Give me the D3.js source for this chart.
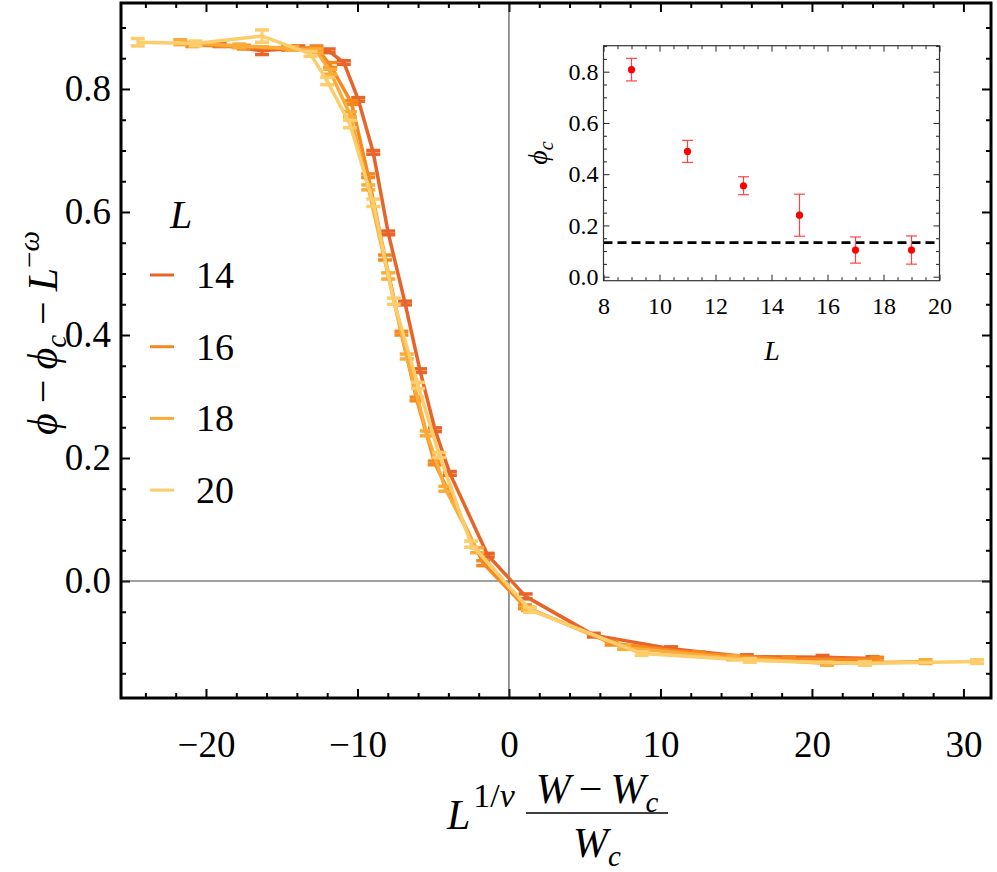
<!DOCTYPE html>
<html>
<head>
<meta charset="utf-8">
<script src="https://cdn.jsdelivr.net/npm/d3@7"></script>
<style>
  body { margin: 0; background: #fff; }
  text { font-family: "Liberation Serif", "DejaVu Serif", serif; fill: #000; }
</style>
</head>
<body>
<div id="chart"></div>
<script>
// ---- data ----
var sizes  = [14, 16, 18, 20];
var colors = ["#e8652a", "#f5891f", "#fbab38", "#fdcd6c"];

var x14 = [-19.1, -16.3, -13.9, -11.9, -10.9, -9.95, -8.96, -7.97, -6.86, -5.87, -4.88, -3.9, -1.4, 1.1, 5.6, 10.7, 15.7, 20.7, 24.0];
var y14 = [0.872, 0.862, 0.867, 0.862, 0.843, 0.783, 0.697, 0.566, 0.452, 0.342, 0.246, 0.175, 0.042, -0.025, -0.088, -0.110, -0.123, -0.124, -0.126];
var e14 = [0.003, 0.006, 0.003, 0.003, 0.003, 0.003, 0.003, 0.003, 0.003, 0.003, 0.003, 0.003, 0.003, 0.004, 0.003, 0.003, 0.003, 0.003, 0.003];

var x16 = [-20.9, -17.5, -14.6, -12.7, -11.8, -10.4, -9.29, -8.18, -7.1, -6.1, -4.9, -1.7, 1.06, 6.78, 12.5, 18.5, 24.3];
var y16 = [0.872, 0.868, 0.866, 0.867, 0.839, 0.778, 0.659, 0.526, 0.403, 0.296, 0.192, 0.029, -0.042, -0.101, -0.118, -0.127, -0.127];
var e16 = [0.003, 0.003, 0.003, 0.003, 0.004, 0.003, 0.003, 0.004, 0.003, 0.003, 0.003, 0.004, 0.003, 0.003, 0.003, 0.003, 0.003];

var x18 = [-21.7, -17.8, -14.3, -12.7, -11.8, -10.5, -9.29, -7.97, -6.75, -5.43, -4.2, -2.1, 1.25, 7.6, 14.8, 21.0, 27.5];
var y18 = [0.876, 0.870, 0.866, 0.862, 0.828, 0.759, 0.640, 0.496, 0.365, 0.240, 0.150, 0.050, -0.045, -0.108, -0.125, -0.134, -0.131];
var e18 = [0.004, 0.003, 0.003, 0.003, 0.004, 0.004, 0.004, 0.005, 0.004, 0.004, 0.004, 0.004, 0.003, 0.003, 0.003, 0.003, 0.003];

var x20 = [-24.5, -20.7, -16.3, -13.1, -12.0, -10.5, -8.96, -7.6, -6.0, -4.6, -2.5, 1.39, 8.76, 15.9, 23.5, 30.9];
var y20 = [0.876, 0.874, 0.886, 0.857, 0.813, 0.743, 0.615, 0.455, 0.318, 0.205, 0.060, -0.047, -0.118, -0.129, -0.134, -0.131];
var e20 = [0.006, 0.004, 0.010, 0.004, 0.006, 0.006, 0.006, 0.005, 0.005, 0.004, 0.005, 0.004, 0.003, 0.003, 0.003, 0.003];

// inset: critical phi vs L
var insetL   = [9, 11, 13, 15, 17, 19];
var insetPhi = [0.808, 0.489, 0.355, 0.240, 0.104, 0.104];
var insetErr = [0.044, 0.043, 0.035, 0.082, 0.051, 0.055];
var phiInf = 0.133;

// tick labels
var xTicks = [-20, -10, 0, 10, 20, 30];
var yTicks = [0, 0.2, 0.4, 0.6, 0.8];
var insetXTicks = [8, 10, 12, 14, 16, 18, 20];
var insetYTicks = [0, 0.2, 0.4, 0.6, 0.8];

var series = [
  {L: sizes[0], xs: x14, ys: y14, es: e14},
  {L: sizes[1], xs: x16, ys: y16, es: e16},
  {L: sizes[2], xs: x18, ys: y18, es: e18},
  {L: sizes[3], xs: x20, ys: y20, es: e20}
];

// ---- layout ----
var width = 997, height = 872;
var frame = {left: 121, right: 991, top: 3, bottom: 698};

var svg = d3.select("#chart").append("svg")
    .attr("width", width)
    .attr("height", height);

var x = d3.scaleLinear().domain([-25.61, 31.82]).range([frame.left, frame.right]);
var y = d3.scaleLinear().domain([-0.1902, 0.9398]).range([frame.bottom, frame.top]);

function minorTicks(lo, hi, step, majors) {
  return d3.range(lo, hi + step / 2, step)
    .map(function(v) { return +v.toFixed(4); })
    .filter(function(v) { return majors.indexOf(v) < 0; });
}

// draw an axis: major + minor ticks, inward
function drawAxis(g, axisFn, scale, majors, minors, majLen, minLen, labels, pad, fontSize, fmt, stroke, sw) {
  var a = axisFn(scale).tickValues(majors).tickSizeInner(-majLen).tickSizeOuter(0).tickPadding(pad);
  if (labels) a.tickFormat(fmt); else a.tickFormat("");
  g.call(a);
  var b = axisFn(scale).tickValues(minors).tickSizeInner(-minLen).tickSizeOuter(0).tickFormat("");
  g.append("g").call(b);
  g.selectAll(".domain").remove();
  g.attr("font-family", null);
  g.selectAll("line").attr("stroke", stroke).attr("stroke-width", sw);
  g.selectAll("text").attr("font-size", fontSize).attr("fill", "#000");
}

//////////
// MAIN PLOT //
//////////

var xMinor = minorTicks(-24, 30, 2, xTicks);
var yMinor = minorTicks(-0.15, 0.9, 0.05, yTicks.map(function(v){ return +v.toFixed(4); }));
var fmtX = d3.format("d"), fmtY = d3.format(".1f");

drawAxis(svg.append("g").attr("transform", "translate(0," + frame.bottom + ")"),
  d3.axisBottom, x, xTicks, xMinor, 9, 5, true, 33, 37, fmtX, "#000", 2);
drawAxis(svg.append("g").attr("transform", "translate(0," + frame.top + ")"),
  d3.axisTop, x, xTicks, xMinor, 9, 5, false, 0, 37, fmtX, "#000", 2);
drawAxis(svg.append("g").attr("transform", "translate(" + frame.left + ",0)"),
  d3.axisLeft, y, yTicks, yMinor, 9, 5, true, 10, 37, fmtY, "#000", 2);
drawAxis(svg.append("g").attr("transform", "translate(" + frame.right + ",0)"),
  d3.axisRight, y, yTicks, yMinor, 9, 5, false, 0, 37, fmtY, "#000", 2);

// clip
svg.append("defs").append("clipPath").attr("id", "clip")
  .append("rect")
    .attr("x", frame.left).attr("y", frame.top)
    .attr("width", frame.right - frame.left).attr("height", frame.bottom - frame.top);

var plot = svg.append("g").attr("clip-path", "url(#clip)");

// zero axes
plot.append("line")
  .attr("x1", frame.left).attr("x2", frame.right)
  .attr("y1", y(0)).attr("y2", y(0))
  .attr("stroke", "#444").attr("stroke-width", 1.1);
plot.append("line")
  .attr("x1", x(0)).attr("x2", x(0))
  .attr("y1", frame.top).attr("y2", frame.bottom)
  .attr("stroke", "#444").attr("stroke-width", 1.1);

var line = d3.line()
  .x(function(d) { return x(d[0]); })
  .y(function(d) { return y(d[1]); });

series.forEach(function(s, i) {
  var pts = s.xs.map(function(v, k) { return [v, s.ys[k], s.es[k]]; });
  var g = plot.append("g");
  g.append("path")
    .datum(pts)
    .attr("d", line)
    .attr("fill", "none")
    .attr("stroke", colors[i])
    .attr("stroke-width", 3.5)
    .attr("stroke-linejoin", "round");
  var eb = g.selectAll("g.eb").data(pts).enter().append("g").attr("class", "eb");
  eb.append("line")
    .attr("x1", function(d) { return x(d[0]); }).attr("x2", function(d) { return x(d[0]); })
    .attr("y1", function(d) { return y(d[1] - d[2]); }).attr("y2", function(d) { return y(d[1] + d[2]); })
    .attr("stroke", colors[i]).attr("stroke-width", 3);
  [-1, 1].forEach(function(sg) {
    eb.append("line")
      .attr("x1", function(d) { return x(d[0]) - 7; }).attr("x2", function(d) { return x(d[0]) + 7; })
      .attr("y1", function(d) { return y(d[1] + sg * d[2]); }).attr("y2", function(d) { return y(d[1] + sg * d[2]); })
      .attr("stroke", colors[i]).attr("stroke-width", 3.5);
  });
});

// frame
svg.append("rect")
  .attr("x", frame.left).attr("y", frame.top)
  .attr("width", frame.right - frame.left).attr("height", frame.bottom - frame.top)
  .attr("fill", "none").attr("stroke", "#000").attr("stroke-width", 3);

//////////
// LEGEND //
//////////

svg.append("text")
  .attr("x", 170).attr("y", 228)
  .attr("font-size", 40).attr("font-style", "italic")
  .text("L");

sizes.forEach(function(L, i) {
  var yy = 275 + i * 71.7;
  svg.append("line")
    .attr("x1", 150).attr("x2", 174).attr("y1", yy).attr("y2", yy)
    .attr("stroke", colors[i]).attr("stroke-width", 3);
  svg.append("text")
    .attr("x", 196).attr("y", yy + 13)
    .attr("font-size", 38)
    .text(L);
});

//////////
// AXIS LABELS //
//////////

// y label: phi - phi_c - L^-omega
var yl = svg.append("text")
  .attr("transform", "translate(57,333) rotate(-90)")
  .attr("text-anchor", "middle")
  .attr("font-size", 42);
yl.append("tspan").attr("font-style", "italic").text("ϕ");
yl.append("tspan").attr("dx", 10).text("−");
yl.append("tspan").attr("dx", 10).attr("font-style", "italic").text("ϕ");
yl.append("tspan").attr("dy", 9).attr("font-size", 29).attr("font-style", "italic").text("c");
yl.append("tspan").attr("dy", -9).attr("dx", 10).text("−");
yl.append("tspan").attr("dx", 10).attr("font-style", "italic").text("L");
yl.append("tspan").attr("dy", -18).attr("font-size", 29).text("−");
yl.append("tspan").attr("font-size", 29).attr("font-style", "italic").text("ω");

// x label: L^{1/nu} (W - W_c)/W_c
var xl = svg.append("g");
var t1 = xl.append("text").attr("x", 447).attr("y", 829).attr("font-size", 42);
t1.append("tspan").attr("font-style", "italic").text("L");
t1.append("tspan").attr("dx", 3).attr("dy", -22).attr("font-size", 34).text("1/");
t1.append("tspan").attr("font-size", 34).attr("font-style", "italic").text("ν");

var num = xl.append("text").attr("x", 597).attr("y", 803).attr("font-size", 42).attr("text-anchor", "middle");
num.append("tspan").attr("font-style", "italic").text("W");
num.append("tspan").attr("dx", 8).text("−");
num.append("tspan").attr("dx", 8).attr("font-style", "italic").text("W");
num.append("tspan").attr("dy", 9).attr("font-size", 29).attr("font-style", "italic").text("c");

xl.append("line")
  .attr("x1", 526).attr("x2", 668).attr("y1", 813).attr("y2", 813)
  .attr("stroke", "#000").attr("stroke-width", 1.6);

var den = xl.append("text").attr("x", 597).attr("y", 857).attr("font-size", 42).attr("text-anchor", "middle");
den.append("tspan").attr("font-style", "italic").text("W");
den.append("tspan").attr("dy", 9).attr("font-size", 29).attr("font-style", "italic").text("c");

//////////
// INSET //
//////////

var inset = {left: 603.5, right: 939.5, top: 45.7, bottom: 280.7};
var xi = d3.scaleLinear().domain([8, 20]).range([inset.left, inset.right]);
var yi = d3.scaleLinear().domain([-0.0156, 0.9014]).range([inset.bottom, inset.top]);

svg.append("rect")
  .attr("x", inset.left).attr("y", inset.top)
  .attr("width", inset.right - inset.left).attr("height", inset.bottom - inset.top)
  .attr("fill", "#fff");

var xiMinor = minorTicks(8, 20, 0.5, insetXTicks);
var yiMinor = minorTicks(0, 0.9, 0.05, insetYTicks.map(function(v){ return +v.toFixed(4); }));

drawAxis(svg.append("g").attr("transform", "translate(0," + inset.bottom + ")"),
  d3.axisBottom, xi, insetXTicks, xiMinor, 6, 3.5, true, 16, 24, fmtX, "#222", 1);
drawAxis(svg.append("g").attr("transform", "translate(0," + inset.top + ")"),
  d3.axisTop, xi, insetXTicks, xiMinor, 6, 3.5, false, 0, 24, fmtX, "#222", 1);
drawAxis(svg.append("g").attr("transform", "translate(" + inset.left + ",0)"),
  d3.axisLeft, yi, insetYTicks, yiMinor, 6, 3.5, true, 5, 24, fmtY, "#222", 1);
drawAxis(svg.append("g").attr("transform", "translate(" + inset.right + ",0)"),
  d3.axisRight, yi, insetYTicks, yiMinor, 6, 3.5, false, 0, 24, fmtY, "#222", 1);

// dashed asymptote
svg.append("line")
  .attr("x1", inset.left).attr("x2", inset.right)
  .attr("y1", yi(phiInf)).attr("y2", yi(phiInf))
  .attr("stroke", "#000").attr("stroke-width", 2.6)
  .attr("stroke-dasharray", "9,5");

var ipts = insetL.map(function(L, k) { return [L, insetPhi[k], insetErr[k]]; });
var ig = svg.selectAll("g.ipt").data(ipts).enter().append("g").attr("class", "ipt");
ig.append("line")
  .attr("x1", function(d) { return xi(d[0]); }).attr("x2", function(d) { return xi(d[0]); })
  .attr("y1", function(d) { return yi(d[1] - d[2]); }).attr("y2", function(d) { return yi(d[1] + d[2]); })
  .attr("stroke", "#f44").attr("stroke-width", 1.2);
[-1, 1].forEach(function(sg) {
  ig.append("line")
    .attr("x1", function(d) { return xi(d[0]) - 5.5; }).attr("x2", function(d) { return xi(d[0]) + 5.5; })
    .attr("y1", function(d) { return yi(d[1] + sg * d[2]); }).attr("y2", function(d) { return yi(d[1] + sg * d[2]); })
    .attr("stroke", "#f44").attr("stroke-width", 1.2);
});
ig.append("circle")
  .attr("cx", function(d) { return xi(d[0]); })
  .attr("cy", function(d) { return yi(d[1]); })
  .attr("r", 3.6)
  .attr("fill", "#f00");

svg.append("rect")
  .attr("x", inset.left).attr("y", inset.top)
  .attr("width", inset.right - inset.left).attr("height", inset.bottom - inset.top)
  .attr("fill", "none").attr("stroke", "#333").attr("stroke-width", 1.2);

// inset labels
svg.append("text")
  .attr("x", 772).attr("y", 360)
  .attr("text-anchor", "middle")
  .attr("font-size", 28).attr("font-style", "italic")
  .text("L");

var pl = svg.append("text")
  .attr("transform", "translate(547,153) rotate(-90)")
  .attr("text-anchor", "middle")
  .attr("font-size", 28);
pl.append("tspan").attr("font-style", "italic").text("ϕ");
pl.append("tspan").attr("dy", 6).attr("font-size", 20).attr("font-style", "italic").text("c");
</script>
</body>
</html>
